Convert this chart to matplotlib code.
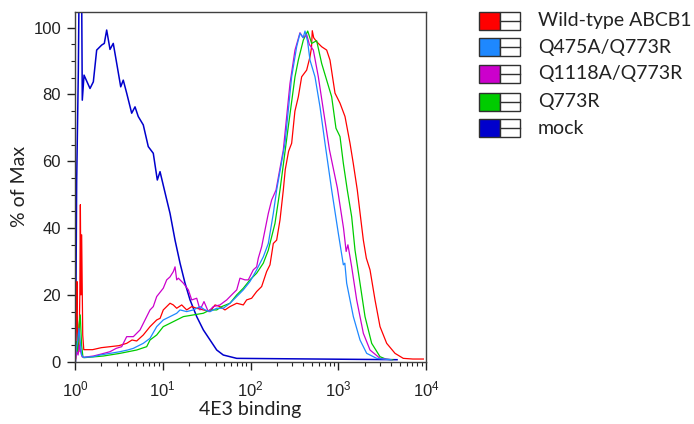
import numpy as np
import matplotlib.pyplot as plt
from matplotlib.patches import Rectangle
from matplotlib.lines import Line2D
from matplotlib.ticker import LogLocator, MultipleLocator

plt.rcParams['font.family'] = 'Liberation Sans'
plt.rcParams['mathtext.fontset'] = 'custom'
plt.rcParams['mathtext.rm'] = 'Liberation Sans'
plt.rcParams['mathtext.it'] = 'Liberation Sans'

# histogram traces: log10(4E3 binding) vs % of Max
wt_log = [0.0, 0.008, 0.015, 0.022, 0.03, 0.045, 0.055, 0.061, 0.068, 0.076, 0.088, 0.1,
          0.2, 0.3, 0.4, 0.5, 0.589, 0.65, 0.703, 0.778, 0.855, 0.931, 0.97, 1.006, 1.083,
          1.12, 1.159, 1.216, 1.273, 1.330, 1.387, 1.462, 1.539, 1.596, 1.652, 1.709, 1.766,
          1.843, 1.918, 1.956, 2.013, 2.070, 2.127, 2.184, 2.222, 2.260, 2.298, 2.336, 2.374,
          2.396, 2.434, 2.469, 2.506, 2.545, 2.583, 2.640, 2.678, 2.695, 2.704, 2.72, 2.754,
          2.811, 2.868, 2.906, 2.963, 3.020, 3.077, 3.134, 3.171, 3.217, 3.26, 3.286, 3.32,
          3.362, 3.419, 3.476, 3.552, 3.647, 3.741, 3.85, 3.97]
wt_pct = [0, 1, 13, 24, 6, 3, 20, 47, 20, 38, 8, 3.6,
          3.6, 4.2, 4.5, 4.8, 5.5, 6.5, 6.2, 8, 10.5, 12.5, 13, 15.5, 17.5,
          17, 16, 17, 15.5, 16.5, 16, 15.5, 15, 17, 16.5, 15.5, 16.5,
          17.5, 17, 18.5, 19, 21, 22.5, 27, 29, 35.4, 36.4, 42.4, 51.4,
          57.5, 63, 65.4, 75, 79.3, 85.3, 87.3, 91.3, 94, 99.1, 97, 95.8,
          94.3, 93.3, 90.3, 80.4, 77.4, 73.4, 65.4, 59.4, 51.4, 42, 36.4, 31,
          27.5, 18.5, 10.5, 5.5, 2.5, 1, 0.8, 0.8]

q475_log = [0.0, 0.015, 0.03, 0.045, 0.06, 0.075, 0.095, 0.209, 0.285, 0.4, 0.513, 0.6,
            0.665, 0.778, 0.855, 0.931, 1.006, 1.083, 1.159, 1.197, 1.273, 1.348, 1.425,
            1.481, 1.539, 1.615, 1.690, 1.766, 1.843, 1.918, 1.994, 2.070, 2.146, 2.203,
            2.260, 2.298, 2.393, 2.469, 2.526, 2.564, 2.60, 2.621, 2.65, 2.678, 2.735, 2.792,
            2.849, 2.925, 3.001, 3.058, 3.075, 3.096, 3.172, 3.248, 3.324, 3.438, 3.6]
q475_pct = [0, 4, 6, 10, 6, 2, 1.3, 1.5, 2, 2.5, 3, 3.5,
            4, 5.5, 7, 10.5, 12.5, 13.5, 14.5, 15.5, 15, 15.5, 16.5,
            15.5, 15, 16, 16, 17.5, 19.5, 21.5, 24, 27.5, 31.4, 35.4,
            44.4, 51.4, 65.4, 85.3, 94.3, 98.3, 97, 99, 96, 90.3, 85.3, 76.3,
            65.4, 51.4, 38.4, 29, 29.5, 23.5, 13.5, 6.5, 2.5, 1, 0.6]

q1118_log = [0.0, 0.02, 0.035, 0.05, 0.065, 0.08, 0.095, 0.209, 0.3, 0.399, 0.47, 0.532,
             0.589, 0.665, 0.741, 0.817, 0.855, 0.892, 0.931, 1.006, 1.045, 1.083, 1.121,
             1.140, 1.159, 1.178, 1.235, 1.292, 1.330, 1.387, 1.425, 1.470, 1.519, 1.576,
             1.652, 1.729, 1.804, 1.843, 1.880, 1.937, 1.975, 2.032, 2.070, 2.089, 2.127,
             2.165, 2.203, 2.241, 2.291, 2.374, 2.450, 2.507, 2.564, 2.60, 2.640, 2.67,
             2.716, 2.773, 2.830, 2.90, 2.99, 3.06, 3.09, 3.11, 3.13, 3.153, 3.210, 3.286,
             3.362, 3.476, 3.6]
q1118_pct = [0, 3, 2, 5, 3, 1.5, 1.3, 1.7, 2.3, 3, 4, 4.5,
             7.5, 7.5, 9.5, 13.5, 15.5, 16.5, 19.5, 22, 24.5, 25.4, 27,
             28.4, 24.5, 25, 23.5, 21.5, 18.5, 19, 15.5, 18, 15, 16.5,
             17, 18.5, 20.5, 21.5, 25, 24.5, 24.5, 27.5, 28.4, 31, 34.4,
             39.4, 44.4, 48.4, 51.4, 63.4, 83.3, 93.3, 98.5, 97, 98, 95,
             93.3, 85.3, 75.4, 63.4, 52, 40, 33, 35, 32, 28.4, 18.5, 8.5,
             3.5, 1, 0.6]

q773_log = [0.0, 0.015, 0.03, 0.045, 0.06, 0.075, 0.09, 0.1, 0.323, 0.513, 0.703, 0.817,
            0.855, 0.931, 1.006, 1.083, 1.159, 1.235, 1.348, 1.462, 1.539, 1.615, 1.672,
            1.766, 1.843, 1.918, 1.994, 2.070, 2.146, 2.203, 2.279, 2.336, 2.431, 2.507,
            2.545, 2.602, 2.652, 2.697, 2.754, 2.811, 2.868, 2.925, 2.974, 3.020, 3.058,
            3.103, 3.153, 3.191, 3.248, 3.305, 3.381, 3.476, 3.55, 3.62]
q773_pct = [0, 6, 3, 11, 14, 5, 1.5, 1.2, 1.7, 2.5, 3.5, 4.5,
            6.5, 8, 10.5, 11.5, 12.5, 13.5, 14, 14.5, 15.5, 15.5, 16.5,
            17.5, 20, 22, 24.5, 26.5, 29.5, 33.4, 41.4, 51.4, 70.4, 85.3,
            90.3, 96.3, 99, 95.3, 96.1, 89.3, 84.3, 79.3, 69.9, 67.4, 59.4,
            51.4, 43.4, 33.4, 23.5, 13.5, 5.5, 1.5, 0.7, 0.6]

mock_log = [0.0, 0.006, 0.019, 0.038, 0.046, 0.076, 0.083, 0.103, 0.171, 0.209, 0.247,
            0.304, 0.334, 0.361, 0.399, 0.436, 0.482, 0.521, 0.550, 0.589, 0.646, 0.684,
            0.721, 0.778, 0.835, 0.892, 0.938, 0.969, 1.037, 1.083, 1.140, 1.197, 1.254,
            1.311, 1.387, 1.463, 1.539, 1.615, 1.690, 1.843, 3.67]
mock_pct = [0, 0, 54, 87, 110, 110, 78.3, 85.8, 81.8, 83.8, 93.3,
            94.8, 95.3, 99.3, 93.5, 95.3, 88.3, 82.3, 84.3, 80.4, 74.4, 76.3,
            73.4, 70.9, 64.4, 62.4, 54.4, 56.9, 49.4, 44.4, 36.4, 29.5, 23.5,
            18.5, 13.5, 9.5, 6.5, 3.5, 2.0, 1.0, 0.6]

labels = ['Wild-type ABCB1', 'Q475A/Q773R', 'Q1118A/Q773R', 'Q773R', 'mock']
colors = ['#FF0000', '#1E88FF', '#CC00CC', '#00CC00', '#0000CC']
series = [(wt_log, wt_pct), (q475_log, q475_pct), (q1118_log, q1118_pct),
          (q773_log, q773_pct), (mock_log, mock_pct)]

W, H = 694, 424
fig = plt.figure(figsize=(W / 100, H / 100), dpi=100)
ax = fig.add_axes([75 / W, (H - 361.7) / H, (426 - 75) / W, (361.7 - 12) / H])

# mock drawn first so the sample traces sit on top of it
for i in [4, 0, 3, 2, 1]:
    lx, pct = series[i]
    ax.plot(10 ** np.array(lx), pct, color=colors[i],
            lw=1.1 if i == 4 else 0.9)

ax.set_xscale('log')
ax.set_xlim(1, 1e4)
ax.set_ylim(0, 104.7)
ax.xaxis.set_major_locator(LogLocator(base=10, numticks=10))
ax.xaxis.set_minor_locator(LogLocator(base=10, subs=np.arange(2, 10), numticks=20))
ax.yaxis.set_major_locator(MultipleLocator(20))
ax.yaxis.set_minor_locator(MultipleLocator(5))

for s in ax.spines.values():
    s.set_color('#404040')
    s.set_linewidth(1.0)

ax.tick_params(which='major', direction='out', length=6, width=1, color='#202020',
               labelsize=12, labelcolor='#222222')
ax.tick_params(which='minor', direction='out', length=3, width=0.8, color='#202020')
ax.tick_params(axis='x', which='major', pad=7)
ax.tick_params(axis='y', which='major', pad=4)

ax.set_xlabel('4E3 binding', fontfamily='Lato', fontsize=14, color='#222222', labelpad=1)
ax.set_ylabel('% of Max', fontfamily='Lato', fontsize=14, color='#222222', labelpad=4)

# legend: colour swatch + empty split box, then the sample name
row_y = [20.7, 47.3, 74.0, 101.7, 128.3]
for lab, col, py in zip(labels, colors, row_y):
    y0 = (H - py - 9) / H
    hh = 18 / H
    fig.patches.append(Rectangle((479.3 / W, y0), 20.7 / W, hh, transform=fig.transFigure,
                                 facecolor=col, edgecolor='#303030', lw=1.0))
    fig.patches.append(Rectangle((500 / W, y0), 20 / W, hh, transform=fig.transFigure,
                                 facecolor='white', edgecolor='#303030', lw=1.0))
    fig.lines.append(Line2D([500 / W, 520 / W], [(H - py) / H] * 2, transform=fig.transFigure,
                            color='#303030', lw=1.0))
    fig.text(537.7 / W, (H - py) / H, lab, fontfamily='Lato', fontsize=14,
             color='#222222', va='center', ha='left')

fig.savefig('out.png', dpi=100)
